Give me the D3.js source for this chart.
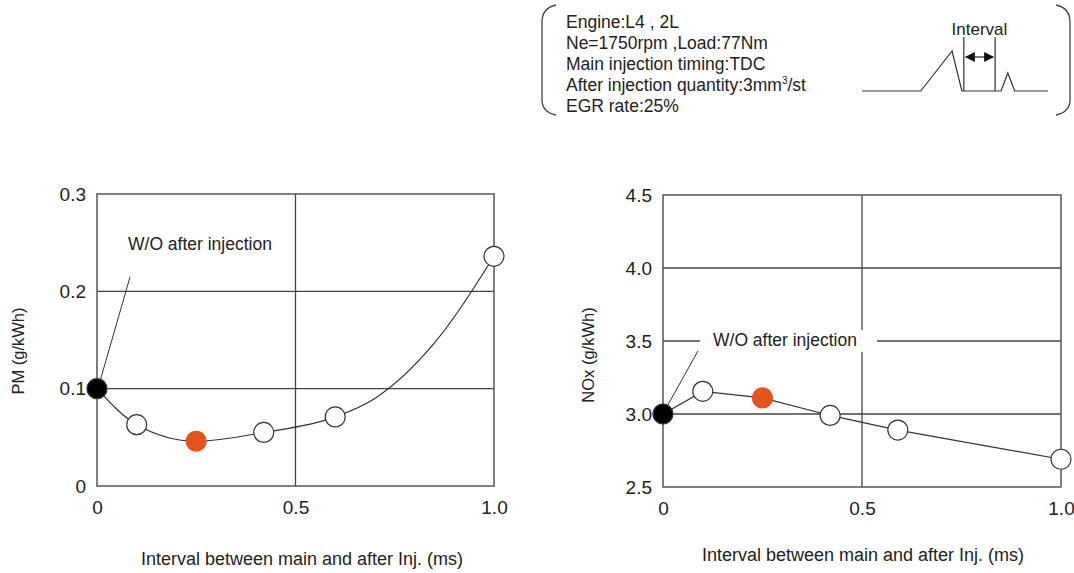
<!DOCTYPE html>
<html>
<head>
<meta charset="utf-8">
<script src="https://cdn.jsdelivr.net/npm/d3@7"></script>
<style>
  body { margin: 0; background: #fff; }
  svg text { font-family: "Liberation Sans", Arial, sans-serif; fill: #222; }
</style>
</head>
<body>
<div id="chart"></div>
<script>
// interval between main and after injection (ms)
var pmX = [0, 0.1, 0.25, 0.42, 0.6, 1.0];
var pmY = [0.1, 0.063, 0.046, 0.055, 0.071, 0.236];
// extra bends of the hand drawn PM curve (no marker)
var pmLineX = [0, 0.1, 0.25, 0.42, 0.6, 0.7, 0.85, 1.0];
var pmLineY = [0.1, 0.063, 0.046, 0.055, 0.071, 0.09, 0.147, 0.236];

var noxX = [0, 0.1, 0.25, 0.42, 0.59, 1.0];
var noxY = [3.0, 3.155, 3.11, 2.99, 2.89, 2.69];

// marker kind per point: base = W/O after injection, best = highlighted
var markKind = ["base", "open", "best", "open", "open", "open"];

var xTicks = [0, 0.5, 1.0];
var pmTicks = [0, 0.1, 0.2, 0.3];
var noxTicks = [2.5, 3.0, 3.5, 4.0, 4.5];

var infoLines = ["Engine:L4 , 2L", "Ne=1750rpm ,Load:77Nm", "Main injection timing:TDC",
                 "After injection quantity:3mm", "EGR rate:25%"];

var width = 1074,
    height = 573;

var svg = d3.select('#chart').append('svg')
  .attr('width', width)
  .attr('height', height);

var frameColor = '#555',
    gridColor = '#444',
    bestColor = '#e2531f';

function drawPanel(opt) {
  var x = d3.scaleLinear().domain([0, 1]).range([opt.left, opt.right]);
  var y = d3.scaleLinear().domain(opt.yDomain).range([opt.bottom, opt.top]);
  var g = svg.append('g');

  // gridlines
  g.selectAll('.hgrid')
    .data(opt.yTicks.slice(1, -1))
    .enter().append('line')
    .attr('x1', opt.left).attr('x2', opt.right)
    .attr('y1', function(d) { return y(d); })
    .attr('y2', function(d) { return y(d); })
    .attr('stroke', gridColor).attr('stroke-width', 1.3);

  g.append('line')
    .attr('x1', x(0.5)).attr('x2', x(0.5))
    .attr('y1', opt.top).attr('y2', opt.bottom)
    .attr('stroke', gridColor).attr('stroke-width', 1.3);

  g.append('rect')
    .attr('x', opt.left).attr('y', opt.top)
    .attr('width', opt.right - opt.left)
    .attr('height', opt.bottom - opt.top)
    .attr('fill', 'none')
    .attr('stroke', frameColor).attr('stroke-width', 1.5);

  // axes (labels only)
  var yAxis = d3.axisLeft(y).tickValues(opt.yTicks).tickSize(0).tickPadding(11)
    .tickFormat(opt.yFormat);
  g.append('g')
    .attr('transform', 'translate(' + opt.left + ',0)')
    .call(yAxis)
    .call(function(a) { a.select('.domain').remove(); })
    .selectAll('text').style('font-size', '19px').attr('fill', '#222');

  var xAxis = d3.axisBottom(x).tickValues(xTicks).tickSize(0).tickPadding(15)
    .tickFormat(function(d) { return d === 0 ? '0' : d3.format('.1f')(d); });
  g.append('g')
    .attr('transform', 'translate(0,' + opt.bottom + ')')
    .call(xAxis)
    .call(function(a) { a.select('.domain').remove(); })
    .selectAll('text').style('font-size', '19px').attr('fill', '#222');

  // annotation
  if (opt.noteBg) {
    g.append('rect')
      .attr('x', opt.noteX - 13).attr('y', opt.noteY - 16)
      .attr('width', 177).attr('height', 22)
      .attr('fill', '#fff');
  }
  g.append('text')
    .attr('x', opt.noteX).attr('y', opt.noteY)
    .style('font-size', '17.5px')
    .text('W/O after injection');
  g.append('line')
    .attr('x1', opt.leader[0]).attr('y1', opt.leader[1])
    .attr('x2', x(opt.xs[0]) + 2).attr('y2', y(opt.ys[0]) - 4)
    .attr('stroke', '#333').attr('stroke-width', 1);

  // curve
  var line = d3.line()
    .x(function(d) { return x(d[0]); })
    .y(function(d) { return y(d[1]); })
    .curve(opt.curve);
  g.append('path')
    .attr('d', line(d3.zip(opt.lineX, opt.lineY)))
    .attr('fill', 'none')
    .attr('stroke', '#333')
    .attr('stroke-width', 1.2);

  g.selectAll('.pt')
    .data(d3.zip(opt.xs, opt.ys, markKind))
    .enter().append('circle')
    .attr('cx', function(d) { return x(d[0]); })
    .attr('cy', function(d) { return y(d[1]); })
    .attr('r', 10)
    .attr('fill', function(d) { return d[2] === 'base' ? '#000' : d[2] === 'best' ? bestColor : '#fff'; })
    .attr('stroke', function(d) { return d[2] === 'best' ? bestColor : '#333'; })
    .attr('stroke-width', 1.2);

  // titles
  svg.append('text')
    .attr('transform', 'translate(' + opt.yTitleX + ',' + opt.yTitleY + ') rotate(-90)')
    .attr('text-anchor', 'middle')
    .style('font-size', '16.5px')
    .text(opt.yTitle);
  svg.append('text')
    .attr('x', opt.xTitleX)
    .attr('y', opt.xTitleY)
    .attr('text-anchor', 'middle')
    .style('font-size', '18px')
    .text('Interval between main and after Inj. (ms)');
}

drawPanel({
  left: 97, right: 494, top: 194, bottom: 486,
  yDomain: [0, 0.3], yTicks: pmTicks,
  yFormat: function(d) { return d === 0 ? '0' : d3.format('.1f')(d); },
  xs: pmX, ys: pmY, lineX: pmLineX, lineY: pmLineY, curve: d3.curveMonotoneX,
  noteX: 128, noteY: 250, noteBg: false, leader: [130, 277],
  yTitle: 'PM (g/kWh)', yTitleX: 24, yTitleY: 351, xTitleX: 302, xTitleY: 565
});

drawPanel({
  left: 663, right: 1061, top: 195, bottom: 487,
  yDomain: [2.5, 4.5], yTicks: noxTicks,
  yFormat: d3.format('.1f'),
  xs: noxX, ys: noxY, lineX: noxX, lineY: noxY, curve: d3.curveLinear,
  noteX: 713, noteY: 346, noteBg: true, leader: [698, 351],
  yTitle: 'NOx (g/kWh)', yTitleX: 594, yTitleY: 355, xTitleX: 863, xTitleY: 561
});

// condition box at the top
var info = svg.append('g');
info.selectAll('text')
  .data(infoLines)
  .enter().append('text')
  .attr('x', 566)
  .attr('y', function(d, i) { return 28 + i * 21; })
  .style('font-size', '17.5px')
  .text(function(d) { return d; })
  .filter(function(d, i) { return i === 3; })
  .call(function(t) {
    t.append('tspan').attr('dy', -7).style('font-size', '10px').text('3');
    t.append('tspan').attr('dy', 7).text('/st');
  });

info.append('path')
  .attr('d', 'M556,5 Q542,8 542,22 L542,100 Q542,112 556,115')
  .attr('fill', 'none').attr('stroke', '#444').attr('stroke-width', 1.3);
info.append('path')
  .attr('d', 'M1056,5 Q1070,8 1070,22 L1070,100 Q1070,112 1056,115')
  .attr('fill', 'none').attr('stroke', '#444').attr('stroke-width', 1.3);

// injection pulse sketch (schematic, in pulse time units)
var pulseT = [0, 3, 4.6, 5.1, 5.2, 6.8, 7.1, 7.45, 7.8, 9.5];
var pulseH = [0, 0, 1, 0, 0, 0, 0, 0.45, 0, 0];
var px = d3.scaleLinear().domain([0, 9.5]).range([862, 1048]);
var py = d3.scaleLinear().domain([0, 1]).range([91, 51]);
info.append('path')
  .attr('d', d3.line().x(function(d) { return px(d[0]); }).y(function(d) { return py(d[1]); })(d3.zip(pulseT, pulseH)))
  .attr('fill', 'none').attr('stroke', '#333').attr('stroke-width', 1.2);
[5.2, 6.8].forEach(function(t) {
  info.append('line')
    .attr('x1', px(t)).attr('x2', px(t))
    .attr('y1', 37).attr('y2', py(0))
    .attr('stroke', '#333').attr('stroke-width', 1.2);
});
info.append('line')
  .attr('x1', px(5.2) + 2).attr('x2', px(6.8) - 2)
  .attr('y1', 57).attr('y2', 57)
  .attr('stroke', '#222').attr('stroke-width', 1.2);
info.append('path')
  .attr('d', 'M' + (px(5.2) + 1) + ',57 l10,-5 l0,10 z M' + (px(6.8) - 1) + ',57 l-10,-5 l0,10 z')
  .attr('fill', '#111');
info.append('text')
  .attr('x', px(6.0)).attr('y', 35)
  .attr('text-anchor', 'middle')
  .style('font-size', '17px')
  .text('Interval');
</script>
</body>
</html>
